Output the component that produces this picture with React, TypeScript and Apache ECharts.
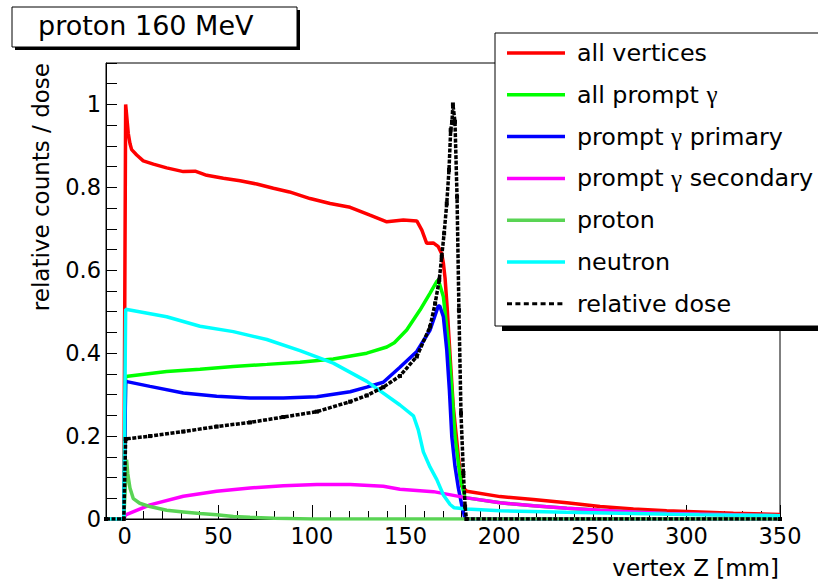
import React, { useEffect, useRef } from "react";
import * as echarts from "echarts";

const FONT = "'DejaVu Sans', 'Liberation Sans', Arial, sans-serif";

const X_MAJOR_TICKS = [0, 50, 100, 150, 200, 250, 300, 350];
const Y_TICK_LABELS = [0, 0.2, 0.4, 0.6, 0.8, 1];

const SERIES_NAMES = [
  "all vertices",
  "all prompt γ",
  "prompt γ primary",
  "prompt γ secondary",
  "proton",
  "neutron",
  "relative dose",
];
const SERIES_COLORS = ["#ff0000", "#00ff00", "#0000ff", "#ff00ff", "#59d454", "#00ffff", "#000000"];

const allVertices: [number, number][] = [
  [-10, 0], [-0.5, 0], [0.5, 1.0], [1.9, 0.93], [2.8, 0.906], [3.7, 0.891], [6.4, 0.878],
  [9.9, 0.864], [15.3, 0.856], [22.4, 0.847], [31.3, 0.838], [37.6, 0.839], [43.8, 0.829],
  [52.7, 0.822], [61.6, 0.816], [70.5, 0.808], [79.4, 0.798], [88, 0.789], [99, 0.773],
  [109.7, 0.761], [120.4, 0.752], [131, 0.733], [140, 0.717], [148.8, 0.721], [156, 0.719],
  [158.7, 0.697], [161.3, 0.665], [164.8, 0.666], [167.5, 0.657], [169.3, 0.64], [170.2, 0.617],
  [171.1, 0.581], [172.2, 0.512], [173.8, 0.392], [175.5, 0.271], [178.2, 0.151], [180, 0.079],
  [182.7, 0.067], [200.5, 0.054], [218.3, 0.047], [236.1, 0.039], [253.9, 0.03], [271.7, 0.024],
  [289.5, 0.02], [307.3, 0.017], [325.1, 0.014], [350, 0.011],
];

const allPrompt: [number, number][] = [
  [-10, 0], [-0.5, 0], [0.5, 0.344], [22.4, 0.356], [40.2, 0.361], [58, 0.368], [75.9, 0.373],
  [93.6, 0.378], [111.4, 0.386], [129.3, 0.4], [140, 0.415], [144, 0.425], [150.6, 0.456],
  [157.7, 0.504], [163.1, 0.545], [166.7, 0.573], [167.5, 0.577], [170.2, 0.536], [172.9, 0.424],
  [174.7, 0.312], [176.4, 0.199], [179.1, 0.103], [181.8, 0.05], [182.7, 0.051], [200.5, 0.039],
  [218.3, 0.032], [236.1, 0.026], [253.9, 0.021], [271.7, 0.017], [289.5, 0.013], [325, 0.01],
  [350, 0.008],
];

const promptPrimary: [number, number][] = [
  [-10, 0], [-0.5, 0], [0.5, 0.332], [13.5, 0.32], [31.3, 0.304], [49.1, 0.296], [66.9, 0.292],
  [84.7, 0.292], [102.6, 0.295], [120.4, 0.307], [129.3, 0.318], [138.1, 0.33], [147, 0.366],
  [156, 0.404], [163.1, 0.456], [167.5, 0.514], [168.3, 0.514], [170.2, 0.488], [172, 0.408],
  [173.4, 0.312], [174.7, 0.199], [176.4, 0.127], [178.2, 0.075], [180, 0.034], [181.8, 0],
  [350, 0],
];

const promptSecondary: [number, number][] = [
  [-10, 0], [-0.5, 0], [0.5, 0.01], [13.5, 0.034], [31.3, 0.055], [49.1, 0.067], [66.9, 0.075],
  [84.7, 0.08], [102.6, 0.083], [120.4, 0.083], [138.1, 0.079], [147, 0.072], [164.9, 0.066],
  [182.7, 0.051], [200.5, 0.039], [218.3, 0.032], [236.1, 0.026], [253.9, 0.021], [271.7, 0.017],
  [289.5, 0.013], [325, 0.01], [350, 0.008],
];

const proton: [number, number][] = [
  [-10, 0], [-0.5, 0], [1, 0.143], [1.6, 0.11], [2.8, 0.075], [4.6, 0.049], [8, 0.038],
  [13.5, 0.03], [22.4, 0.021], [31.3, 0.017], [40.2, 0.013], [49.1, 0.01], [58, 0.006],
  [66.9, 0.004], [80, 0.002], [100, 0], [350, 0],
];

const neutron: [number, number][] = [
  [-10, 0], [-0.5, 0], [0.5, 0.506], [22.4, 0.488], [40.2, 0.465], [58, 0.452], [75.9, 0.433],
  [93.6, 0.406], [111.4, 0.376], [129.3, 0.332], [147, 0.275], [154.2, 0.249], [156.8, 0.215],
  [159.5, 0.162], [163.1, 0.125], [164.9, 0.11], [166.7, 0.095], [170.2, 0.058], [173.8, 0.035],
  [176, 0.027], [182.7, 0.024], [200.5, 0.02], [236, 0.016], [271.7, 0.013], [307, 0.01],
  [350, 0.008],
];

const relativeDose: [number, number][] = [
  [-10, 0], [-0.5, 0], [0.5, 0.193], [13.5, 0.2], [31.3, 0.211], [49.1, 0.223], [66.9, 0.233],
  [84.7, 0.246], [102.6, 0.259], [120.4, 0.283], [129.3, 0.298], [138.1, 0.318], [147, 0.345],
  [156, 0.392], [163.1, 0.464], [165.8, 0.52], [168, 0.577], [169.3, 0.633], [170.6, 0.689],
  [172, 0.761], [173.2, 0.842], [174.1, 0.938], [174.8, 0.958], [175.3, 1.0], [176.4, 0.958],
  [177.5, 0.777], [178.5, 0.504], [179.6, 0.255], [180.9, 0.111], [181.8, 0.03], [182.5, 0],
  [350, 0],
];

const SERIES_DATA = [allVertices, allPrompt, promptPrimary, promptSecondary, proton, neutron, relativeDose];

const SOLID_ICON = "path://M0 0H58V3.5H0Z";
const DASH_ICON =
  "path://M0 0H5V3H0Z M8.4 0H13.4V3H8.4Z M16.8 0H21.8V3H16.8Z M25.2 0H30.2V3H25.2Z M33.6 0H38.6V3H33.6Z M42 0H47V3H42Z M50.4 0H55.4V3H50.4Z M58 0H58.01V3H58Z";

const isIn = (list: number[], v: number) => list.some((t) => Math.abs(t - v) < 1e-9);

export default function App() {
  const ref = useRef<HTMLDivElement>(null);

  useEffect(() => {
    if (!ref.current) return;
    const chart = echarts.init(ref.current, null, { renderer: "svg" });

    const series = SERIES_NAMES.map((name, i) => {
      const isDose = name === "relative dose";
      return {
        name,
        type: "line",
        xAxisIndex: 0,
        yAxisIndex: 0,
        data: SERIES_DATA[i],
        color: SERIES_COLORS[i],
        symbol: isDose ? "rect" : "none",
        symbolSize: 4,
        showSymbol: isDose,
        showAllSymbol: true,
        lineStyle: {
          color: SERIES_COLORS[i],
          width: isDose ? 3.5 : 3.5,
          type: isDose ? [4, 1.5] : "solid",
        },
        itemStyle: { color: SERIES_COLORS[i] },
        z: 2 + i * 0.01,
        silent: true,
      };
    });

    const tickLine = { color: "#000", width: 1 };

    const option = {
      animation: false,
      backgroundColor: "#fff",
      title: {
        text: "proton 160 MeV",
        left: 38,
        top: 11.5,
        padding: 0,
        z: 12,
        textStyle: { fontSize: 27, lineHeight: 27, fontWeight: "normal", color: "#000", fontFamily: FONT },
      },
      grid: {
        left: 106,
        top: 63,
        right: 38,
        bottom: 61,
        show: true,
        borderColor: "#000",
        borderWidth: 1,
        backgroundColor: "transparent",
      },
      legend: {
        orient: "vertical",
        left: 507,
        top: 40.5,
        padding: 0,
        itemWidth: 58,
        itemHeight: 25,
        itemGap: 16.8,
        z: 20,
        selectedMode: false,
        data: SERIES_NAMES.map((name) => ({
          name,
          icon: name === "relative dose" ? DASH_ICON : SOLID_ICON,
        })),
        formatter: (name: string) => name.replace("γ", "{g|γ}"),
        textStyle: {
          fontSize: 23.8,
          lineHeight: 25,
          color: "#000",
          fontFamily: FONT,
          padding: [0, 0, 0, 7],
          rich: {
            g: { fontSize: 25, lineHeight: 25, fontFamily: "'Liberation Serif', serif", color: "#000" },
          },
        },
      },
      xAxis: [
        {
          type: "value",
          min: -10,
          max: 350,
          interval: 10,
          axisLine: { show: true, onZero: false, lineStyle: tickLine },
          axisTick: { show: true, inside: true, length: 8, lineStyle: tickLine },
          minorTick: { show: false },
          splitLine: { show: false },
          axisLabel: {
            show: true,
            formatter: (v: number) => (isIn(X_MAJOR_TICKS, v) ? String(v) : ""),
            fontSize: 22.5,
            fontFamily: FONT,
            color: "#000",
            margin: 5,
          },
        },
        {
          type: "value",
          min: -10,
          max: 350,
          interval: 10,
          position: "bottom",
          axisLine: { show: false, onZero: false },
          axisTick: {
            show: true,
            inside: true,
            length: 14,
            customValues: X_MAJOR_TICKS,
            lineStyle: tickLine,
          },
          splitLine: { show: false },
          axisLabel: { show: false },
        },
      ],
      yAxis: [
        {
          type: "value",
          min: 0,
          max: 1.1,
          interval: 0.05,
          axisLine: { show: true, onZero: false, lineStyle: tickLine },
          axisTick: { show: true, inside: true, length: 11, lineStyle: tickLine },
          splitLine: { show: false },
          axisLabel: {
            show: true,
            formatter: (v: number) => (isIn(Y_TICK_LABELS, v) ? String(Number(v.toFixed(2))) : ""),
            fontSize: 22.5,
            fontFamily: FONT,
            color: "#000",
            margin: 5,
          },
        },
      ],
      graphic: [
        { type: "rect", z: 10, shape: { x: 15, y: 10, width: 285, height: 40 }, style: { fill: "#000" } },
        {
          type: "rect",
          z: 11,
          shape: { x: 12, y: 7, width: 285, height: 40 },
          style: { fill: "#fff", stroke: "#000", lineWidth: 1 },
        },
        { type: "rect", z: 10, shape: { x: 502, y: 38, width: 340, height: 293 }, style: { fill: "#000" } },
        {
          type: "rect",
          z: 11,
          shape: { x: 495, y: 33, width: 340, height: 293 },
          style: { fill: "#fff", stroke: "#000", lineWidth: 1 },
        },
        {
          type: "text",
          z: 12,
          x: 40.5,
          y: 63,
          rotation: Math.PI / 2,
          style: {
            text: "relative counts / dose",
            fontSize: 23,
            fontFamily: FONT,
            fill: "#000",
            align: "right",
            verticalAlign: "middle",
          },
        },
        {
          type: "text",
          z: 12,
          x: 779,
          y: 567.5,
          style: {
            text: "vertex Z [mm]",
            fontSize: 23,
            fontFamily: FONT,
            fill: "#000",
            align: "right",
            verticalAlign: "middle",
          },
        },
      ],
      series,
    };

    chart.setOption(option as any);
    return () => chart.dispose();
  }, []);

  return (
    <div
      ref={ref}
      style={{ position: "fixed", left: 0, top: 0, width: 818, height: 580, background: "#fff" }}
    />
  );
}
